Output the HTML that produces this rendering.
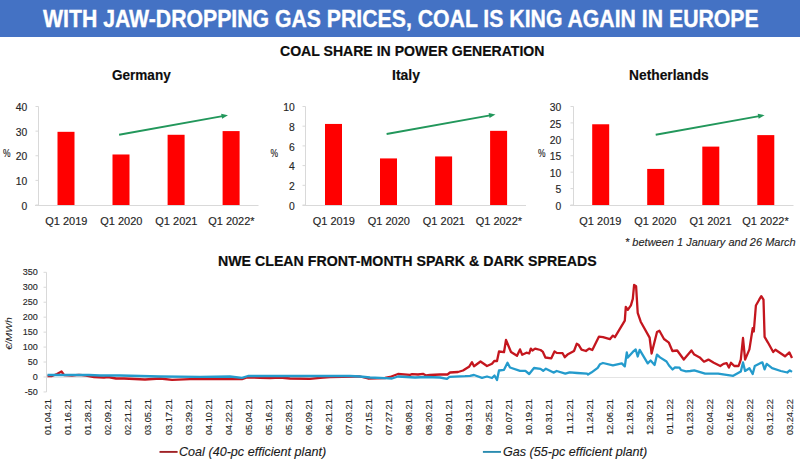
<!DOCTYPE html>
<html><head><meta charset="utf-8">
<style>
html,body{margin:0;padding:0;background:#fff;}
body{width:800px;height:463px;position:relative;overflow:hidden;font-family:"Liberation Sans",sans-serif;}
.hdr{position:absolute;left:0;top:0;width:800px;height:37px;background:#4472c4;}
.t{position:absolute;white-space:nowrap;line-height:1;transform-origin:0 0;}
svg{position:absolute;left:0;top:0;}
svg text{font-family:"Liberation Sans",sans-serif;}
.yl{font-size:10px;fill:#262626;stroke:#262626;stroke-width:0.15px;}
.xl{font-size:10px;fill:#262626;stroke:#262626;stroke-width:0.15px;}
.pct{font-size:10px;fill:#262626;stroke:#262626;stroke-width:0.15px;}
.yl2{font-size:9px;fill:#262626;stroke:#262626;stroke-width:0.12px;}
.dl{font-size:9.7px;fill:#262626;stroke:#262626;stroke-width:0.12px;}
.unit{font-size:9.6px;font-style:italic;fill:#262626;}
</style></head><body>
<div class="hdr"></div>
<svg width="800" height="463" viewBox="0 0 800 463">
<line x1="38.5" y1="106.5" x2="38.5" y2="205" stroke="#d9d9d9" stroke-width="1"/>
<line x1="35" y1="205.5" x2="258.5" y2="205.5" stroke="#d9d9d9" stroke-width="1"/>
<line x1="35.5" y1="205.0" x2="38.5" y2="205.0" stroke="#d9d9d9" stroke-width="1"/>
<text transform="translate(27.3,209.70) scale(1.035,1)" text-anchor="end" class="yl">0</text>
<line x1="35.5" y1="180.375" x2="38.5" y2="180.375" stroke="#d9d9d9" stroke-width="1"/>
<text transform="translate(27.3,185.07) scale(1.035,1)" text-anchor="end" class="yl">10</text>
<line x1="35.5" y1="155.75" x2="38.5" y2="155.75" stroke="#d9d9d9" stroke-width="1"/>
<text transform="translate(27.3,160.45) scale(1.035,1)" text-anchor="end" class="yl">20</text>
<line x1="35.5" y1="131.125" x2="38.5" y2="131.125" stroke="#d9d9d9" stroke-width="1"/>
<text transform="translate(27.3,135.82) scale(1.035,1)" text-anchor="end" class="yl">30</text>
<line x1="35.5" y1="106.5" x2="38.5" y2="106.5" stroke="#d9d9d9" stroke-width="1"/>
<text transform="translate(27.3,111.20) scale(1.035,1)" text-anchor="end" class="yl">40</text>
<rect x="57.50" y="131.82" width="17" height="73.18" fill="#ff0000"/>
<text transform="translate(66.30,224.7) scale(1.1,1)" text-anchor="middle" class="xl">Q1 2019</text>
<rect x="112.50" y="154.48" width="17" height="50.52" fill="#ff0000"/>
<text transform="translate(121.30,224.7) scale(1.1,1)" text-anchor="middle" class="xl">Q1 2020</text>
<rect x="167.60" y="134.78" width="17" height="70.22" fill="#ff0000"/>
<text transform="translate(176.40,224.7) scale(1.1,1)" text-anchor="middle" class="xl">Q1 2021</text>
<rect x="222.60" y="131.09" width="17" height="73.91" fill="#ff0000"/>
<text transform="translate(231.40,224.7) scale(1.1,1)" text-anchor="middle" class="xl">Q1 2022*</text>
<text transform="translate(3.0,157.4) scale(0.85,1)" class="pct">%</text>
<line x1="119.1" y1="134.7" x2="222.58" y2="116.09" stroke="#22975b" stroke-width="1.9"/>
<polygon points="228.00,115.20 222.06,118.82 221.13,113.70" fill="#22975b"/>
<line x1="305.5" y1="106.5" x2="305.5" y2="205" stroke="#d9d9d9" stroke-width="1"/>
<line x1="302.5" y1="205.5" x2="526.0" y2="205.5" stroke="#d9d9d9" stroke-width="1"/>
<line x1="302.5" y1="205.0" x2="305.5" y2="205.0" stroke="#d9d9d9" stroke-width="1"/>
<text transform="translate(294.8,209.70) scale(1.035,1)" text-anchor="end" class="yl">0</text>
<line x1="302.5" y1="185.3" x2="305.5" y2="185.3" stroke="#d9d9d9" stroke-width="1"/>
<text transform="translate(294.8,190.00) scale(1.035,1)" text-anchor="end" class="yl">2</text>
<line x1="302.5" y1="165.6" x2="305.5" y2="165.6" stroke="#d9d9d9" stroke-width="1"/>
<text transform="translate(294.8,170.30) scale(1.035,1)" text-anchor="end" class="yl">4</text>
<line x1="302.5" y1="145.9" x2="305.5" y2="145.9" stroke="#d9d9d9" stroke-width="1"/>
<text transform="translate(294.8,150.60) scale(1.035,1)" text-anchor="end" class="yl">6</text>
<line x1="302.5" y1="126.2" x2="305.5" y2="126.2" stroke="#d9d9d9" stroke-width="1"/>
<text transform="translate(294.8,130.90) scale(1.035,1)" text-anchor="end" class="yl">8</text>
<line x1="302.5" y1="106.5" x2="305.5" y2="106.5" stroke="#d9d9d9" stroke-width="1"/>
<text transform="translate(294.8,111.20) scale(1.035,1)" text-anchor="end" class="yl">10</text>
<rect x="325.00" y="123.94" width="17" height="81.06" fill="#ff0000"/>
<text transform="translate(333.80,224.7) scale(1.1,1)" text-anchor="middle" class="xl">Q1 2019</text>
<rect x="380.00" y="158.42" width="17" height="46.58" fill="#ff0000"/>
<text transform="translate(388.80,224.7) scale(1.1,1)" text-anchor="middle" class="xl">Q1 2020</text>
<rect x="435.10" y="156.45" width="17" height="48.55" fill="#ff0000"/>
<text transform="translate(443.90,224.7) scale(1.1,1)" text-anchor="middle" class="xl">Q1 2021</text>
<rect x="490.10" y="130.84" width="17" height="74.16" fill="#ff0000"/>
<text transform="translate(498.90,224.7) scale(1.1,1)" text-anchor="middle" class="xl">Q1 2022*</text>
<text transform="translate(270.5,157.4) scale(0.85,1)" class="pct">%</text>
<line x1="386.6" y1="134.0" x2="490.08" y2="115.39" stroke="#22975b" stroke-width="1.9"/>
<polygon points="495.50,114.50 489.56,118.12 488.63,113.00" fill="#22975b"/>
<line x1="573.5" y1="106.5" x2="573.5" y2="205" stroke="#d9d9d9" stroke-width="1"/>
<line x1="570" y1="205.5" x2="793.5" y2="205.5" stroke="#d9d9d9" stroke-width="1"/>
<line x1="570.5" y1="205.0" x2="573.5" y2="205.0" stroke="#d9d9d9" stroke-width="1"/>
<text transform="translate(561.3,209.70) scale(1.035,1)" text-anchor="end" class="yl">0</text>
<line x1="570.5" y1="188.58333333333334" x2="573.5" y2="188.58333333333334" stroke="#d9d9d9" stroke-width="1"/>
<text transform="translate(561.3,193.28) scale(1.035,1)" text-anchor="end" class="yl">5</text>
<line x1="570.5" y1="172.16666666666669" x2="573.5" y2="172.16666666666669" stroke="#d9d9d9" stroke-width="1"/>
<text transform="translate(561.3,176.87) scale(1.035,1)" text-anchor="end" class="yl">10</text>
<line x1="570.5" y1="155.75" x2="573.5" y2="155.75" stroke="#d9d9d9" stroke-width="1"/>
<text transform="translate(561.3,160.45) scale(1.035,1)" text-anchor="end" class="yl">15</text>
<line x1="570.5" y1="139.33333333333334" x2="573.5" y2="139.33333333333334" stroke="#d9d9d9" stroke-width="1"/>
<text transform="translate(561.3,144.03) scale(1.035,1)" text-anchor="end" class="yl">20</text>
<line x1="570.5" y1="122.91666666666667" x2="573.5" y2="122.91666666666667" stroke="#d9d9d9" stroke-width="1"/>
<text transform="translate(561.3,127.62) scale(1.035,1)" text-anchor="end" class="yl">25</text>
<line x1="570.5" y1="106.5" x2="573.5" y2="106.5" stroke="#d9d9d9" stroke-width="1"/>
<text transform="translate(561.3,111.20) scale(1.035,1)" text-anchor="end" class="yl">30</text>
<rect x="592.20" y="124.27" width="17" height="80.73" fill="#ff0000"/>
<text transform="translate(600.40,224.7) scale(1.1,1)" text-anchor="middle" class="xl">Q1 2019</text>
<rect x="647.20" y="168.93" width="17" height="36.07" fill="#ff0000"/>
<text transform="translate(655.40,224.7) scale(1.1,1)" text-anchor="middle" class="xl">Q1 2020</text>
<rect x="702.30" y="146.60" width="17" height="58.40" fill="#ff0000"/>
<text transform="translate(710.50,224.7) scale(1.1,1)" text-anchor="middle" class="xl">Q1 2021</text>
<rect x="757.30" y="135.11" width="17" height="69.89" fill="#ff0000"/>
<text transform="translate(765.50,224.7) scale(1.1,1)" text-anchor="middle" class="xl">Q1 2022*</text>
<text transform="translate(538.0,157.4) scale(0.85,1)" class="pct">%</text>
<line x1="655.7" y1="134.7" x2="759.18" y2="116.09" stroke="#22975b" stroke-width="1.9"/>
<polygon points="764.60,115.20 758.66,118.82 757.73,113.70" fill="#22975b"/>
<line x1="46.5" y1="272.3" x2="46.5" y2="392" stroke="#d9d9d9" stroke-width="1"/>
<line x1="46.5" y1="377.5" x2="792" y2="377.5" stroke="#e4e4e4" stroke-width="1"/>
<line x1="43.5" y1="391.96" x2="46.5" y2="391.96" stroke="#d9d9d9" stroke-width="1"/>
<text x="37.7" y="395.44" text-anchor="end" class="yl2">-50</text>
<line x1="43.5" y1="377.00" x2="46.5" y2="377.00" stroke="#d9d9d9" stroke-width="1"/>
<text x="37.7" y="380.36" text-anchor="end" class="yl2">0</text>
<line x1="43.5" y1="362.04" x2="46.5" y2="362.04" stroke="#d9d9d9" stroke-width="1"/>
<text x="37.7" y="365.28" text-anchor="end" class="yl2">50</text>
<line x1="43.5" y1="347.09" x2="46.5" y2="347.09" stroke="#d9d9d9" stroke-width="1"/>
<text x="37.7" y="350.20" text-anchor="end" class="yl2">100</text>
<line x1="43.5" y1="332.13" x2="46.5" y2="332.13" stroke="#d9d9d9" stroke-width="1"/>
<text x="37.7" y="335.12" text-anchor="end" class="yl2">150</text>
<line x1="43.5" y1="317.17" x2="46.5" y2="317.17" stroke="#d9d9d9" stroke-width="1"/>
<text x="37.7" y="320.04" text-anchor="end" class="yl2">200</text>
<line x1="43.5" y1="302.21" x2="46.5" y2="302.21" stroke="#d9d9d9" stroke-width="1"/>
<text x="37.7" y="304.96" text-anchor="end" class="yl2">250</text>
<line x1="43.5" y1="287.26" x2="46.5" y2="287.26" stroke="#d9d9d9" stroke-width="1"/>
<text x="37.7" y="289.88" text-anchor="end" class="yl2">300</text>
<line x1="43.5" y1="272.30" x2="46.5" y2="272.30" stroke="#d9d9d9" stroke-width="1"/>
<text x="37.7" y="274.80" text-anchor="end" class="yl2">350</text>
<text transform="translate(51.20,399.2) rotate(-90) scale(0.95,1)" text-anchor="end" class="dl">01.04.21</text>
<text transform="translate(71.25,399.2) rotate(-90) scale(0.95,1)" text-anchor="end" class="dl">01.16.21</text>
<text transform="translate(91.30,399.2) rotate(-90) scale(0.95,1)" text-anchor="end" class="dl">01.28.21</text>
<text transform="translate(111.35,399.2) rotate(-90) scale(0.95,1)" text-anchor="end" class="dl">02.09.21</text>
<text transform="translate(131.40,399.2) rotate(-90) scale(0.95,1)" text-anchor="end" class="dl">02.21.21</text>
<text transform="translate(151.45,399.2) rotate(-90) scale(0.95,1)" text-anchor="end" class="dl">03.05.21</text>
<text transform="translate(171.50,399.2) rotate(-90) scale(0.95,1)" text-anchor="end" class="dl">03.17.21</text>
<text transform="translate(191.55,399.2) rotate(-90) scale(0.95,1)" text-anchor="end" class="dl">03.29.21</text>
<text transform="translate(211.60,399.2) rotate(-90) scale(0.95,1)" text-anchor="end" class="dl">04.10.21</text>
<text transform="translate(231.65,399.2) rotate(-90) scale(0.95,1)" text-anchor="end" class="dl">04.22.21</text>
<text transform="translate(251.70,399.2) rotate(-90) scale(0.95,1)" text-anchor="end" class="dl">05.04.21</text>
<text transform="translate(271.75,399.2) rotate(-90) scale(0.95,1)" text-anchor="end" class="dl">05.16.21</text>
<text transform="translate(291.80,399.2) rotate(-90) scale(0.95,1)" text-anchor="end" class="dl">05.28.21</text>
<text transform="translate(311.85,399.2) rotate(-90) scale(0.95,1)" text-anchor="end" class="dl">06.09.21</text>
<text transform="translate(331.90,399.2) rotate(-90) scale(0.95,1)" text-anchor="end" class="dl">06.21.21</text>
<text transform="translate(351.95,399.2) rotate(-90) scale(0.95,1)" text-anchor="end" class="dl">07.03.21</text>
<text transform="translate(372.00,399.2) rotate(-90) scale(0.95,1)" text-anchor="end" class="dl">07.15.21</text>
<text transform="translate(392.05,399.2) rotate(-90) scale(0.95,1)" text-anchor="end" class="dl">07.27.21</text>
<text transform="translate(412.10,399.2) rotate(-90) scale(0.95,1)" text-anchor="end" class="dl">08.08.21</text>
<text transform="translate(432.15,399.2) rotate(-90) scale(0.95,1)" text-anchor="end" class="dl">08.20.21</text>
<text transform="translate(452.20,399.2) rotate(-90) scale(0.95,1)" text-anchor="end" class="dl">09.01.21</text>
<text transform="translate(472.25,399.2) rotate(-90) scale(0.95,1)" text-anchor="end" class="dl">09.13.21</text>
<text transform="translate(492.30,399.2) rotate(-90) scale(0.95,1)" text-anchor="end" class="dl">09.25.21</text>
<text transform="translate(512.35,399.2) rotate(-90) scale(0.95,1)" text-anchor="end" class="dl">10.07.21</text>
<text transform="translate(532.40,399.2) rotate(-90) scale(0.95,1)" text-anchor="end" class="dl">10.19.21</text>
<text transform="translate(552.45,399.2) rotate(-90) scale(0.95,1)" text-anchor="end" class="dl">10.31.21</text>
<text transform="translate(572.50,399.2) rotate(-90) scale(0.95,1)" text-anchor="end" class="dl">11.12.21</text>
<text transform="translate(592.55,399.2) rotate(-90) scale(0.95,1)" text-anchor="end" class="dl">11.24.21</text>
<text transform="translate(612.60,399.2) rotate(-90) scale(0.95,1)" text-anchor="end" class="dl">12.06.21</text>
<text transform="translate(632.65,399.2) rotate(-90) scale(0.95,1)" text-anchor="end" class="dl">12.18.21</text>
<text transform="translate(652.70,399.2) rotate(-90) scale(0.95,1)" text-anchor="end" class="dl">12.30.21</text>
<text transform="translate(672.75,399.2) rotate(-90) scale(0.95,1)" text-anchor="end" class="dl">01.11.22</text>
<text transform="translate(692.80,399.2) rotate(-90) scale(0.95,1)" text-anchor="end" class="dl">01.23.22</text>
<text transform="translate(712.85,399.2) rotate(-90) scale(0.95,1)" text-anchor="end" class="dl">02.04.22</text>
<text transform="translate(732.90,399.2) rotate(-90) scale(0.95,1)" text-anchor="end" class="dl">02.16.22</text>
<text transform="translate(752.95,399.2) rotate(-90) scale(0.95,1)" text-anchor="end" class="dl">02.28.22</text>
<text transform="translate(773.00,399.2) rotate(-90) scale(0.95,1)" text-anchor="end" class="dl">03.12.22</text>
<text transform="translate(793.05,399.2) rotate(-90) scale(0.95,1)" text-anchor="end" class="dl">03.24.22</text>
<polyline points="47.5,376 52,376 57,374 61.5,371.5 64,375 72,375.5 79,374.8 86,375.5 94,377 104,377.5 108,377 116,378.5 124,378.5 145,379.5 160,378.5 172,379.8 190,379.2 200,379 230,379.2 242,379.2 247,377.5 260,377.8 270,378.2 280,377.5 290,378.5 310,378.8 320,377.8 330,377 355,376.5 360,376.5 368,378.5 385,378 390,377 398,374 410,374.8 412,374.2 418,374.5 423,373.8 426,375.5 430,375 440,374.5 447.5,374.5 450,372.5 458,372 463,370.5 469,366.8 472,362.2 474,366.2 480.5,361.5 487,366 492,363.8 494.5,360.8 497,361 499,351.5 504,352.2 506,340 511,352 517,355.8 520,349.4 522.2,354.8 526.5,352.7 529.2,353.5 530.8,348.6 532.4,350.5 535.1,348.6 540.5,350 542.7,351.6 545.4,357.5 551.3,358.3 554.5,351.4 556.7,352.9 562.6,353.2 564.8,357.2 567.5,354.6 574,351 576.7,343.8 578.8,345.1 581.5,349.6 585.9,351 589.1,348.6 592.3,350 599,336.6 603,337.2 609.9,339.2 612.9,335.6 614.9,337.2 624.8,320.7 625.8,306.8 627.8,309.8 630.9,305.4 632.8,298.9 634.1,285 636.1,286.3 637.7,312.8 640.7,321.7 649.6,337.6 651.6,353.5 657,332 659.4,330.8 664,339 668.9,342.7 672.4,351 677.2,350.5 683.8,359.5 691.4,350.5 694.3,354.6 699.7,357.4 704,361.7 708.4,359.6 713.8,362.8 720.3,366 723.5,363.9 726.7,363.2 728.9,367.6 731,362.8 734.3,366 738.6,366 740.8,359.6 743,338 745.1,359.6 749.4,349.4 752.7,328.2 753.8,331.5 755.9,305.5 759.2,299.7 761.3,296.2 763.5,299.7 764.6,336.9 767.8,342.3 773.2,352 775.4,349.8 785,356.3 789.4,352.4 792,358" fill="none" stroke="#c4161e" stroke-width="2.3" stroke-linejoin="round"/>
<polyline points="47.5,375 89,375 100,375.5 120,375.5 140,376 160,376.5 200,376.8 230,376.5 242,377.8 248,376 280,376 350,376 360,376.5 370,377.5 385,378.2 392,378.5 398,376.5 415,377.5 426,377 440,377.5 447,378.8 449.5,376.8 465,376.2 470,375.8 474,375 482,377.8 487,376.5 492,378 494.5,375.5 497,380 499,370.5 504,369.8 507.5,362.8 510,367.5 520,370.8 525.4,370.8 529.2,374 534,368 540.5,368.9 543.2,370.8 545.9,368.7 553.5,372.6 556.7,371 565.3,373.7 569.7,372.3 577.2,373 587,373.7 588,374.5 591.3,372.6 597.7,367.8 599.9,364.3 603,363 612.9,365.4 621.8,363.4 624.8,366.4 626.8,352.5 627.8,357.5 632.8,351.9 635.7,349.5 637.7,356.5 639.7,349.9 647.7,363.4 650.6,360.5 654.6,365 657,354.6 660,357.4 666.5,361.5 669,365.5 672.6,369.5 675,367.3 679.5,367.6 681,370 686,371.3 690.25,371 694.3,370.4 705.1,373.6 718.1,373.6 733.2,375.8 740.8,371.4 743,362.4 745.1,371 749.4,368.2 752.7,374 754.8,366 760.2,363.2 762.4,362.4 764.6,369.3 766.7,363.9 772.1,368.2 780.8,371 787.3,372.5 789.8,370.4 792,371.9" fill="none" stroke="#249bcc" stroke-width="2.3" stroke-linejoin="round"/>
<text transform="translate(12.2,333.7) rotate(-90) scale(1.08,1)" text-anchor="middle" class="unit">€/MWh</text>
<line x1="159.5" y1="451.9" x2="177.6" y2="451.9" stroke="#a02226" stroke-width="1.9"/>
<line x1="482.9" y1="451.9" x2="501" y2="451.9" stroke="#2a8cb0" stroke-width="1.9"/>
</svg>
<div class="t" style="left:43.0px;top:7.3999999999999995px;font-size:23.77px;font-weight:bold;color:#fff;transform:scaleX(0.8934);-webkit-text-stroke:0.35px #fff;">WITH JAW-DROPPING GAS PRICES, COAL IS KING AGAIN IN EUROPE</div>
<div class="t" style="left:280.04px;top:43.07px;font-size:15.22px;font-weight:bold;color:#0d0d0d;transform:scaleX(0.9244);-webkit-text-stroke:0.2px #0d0d0d;">COAL SHARE IN POWER GENERATION</div>
<div class="t" style="left:112.36px;top:69.27px;font-size:13.8px;font-weight:bold;color:#0d0d0d;transform:scaleX(0.9814);-webkit-text-stroke:0.15px #0d0d0d;">Germany</div>
<div class="t" style="left:392.32px;top:69.07px;font-size:13.8px;font-weight:bold;color:#0d0d0d;transform:scaleX(1.0152);-webkit-text-stroke:0.15px #0d0d0d;">Italy</div>
<div class="t" style="left:629.28px;top:69.27px;font-size:13.8px;font-weight:bold;color:#0d0d0d;transform:scaleX(1.0001);-webkit-text-stroke:0.15px #0d0d0d;">Netherlands</div>
<div class="t" style="left:217.76px;top:254.27px;font-size:14.86px;font-weight:bold;color:#0d0d0d;transform:scaleX(0.9541);-webkit-text-stroke:0.2px #0d0d0d;">NWE CLEAN FRONT-MONTH SPARK &amp; DARK SPREADS</div>
<div class="t" style="left:624.84px;top:236.63px;font-size:11.5px;font-style:italic;color:#262626;transform:scaleX(0.9571);-webkit-text-stroke:0.12px #262626;">* between 1 January and 26 March</div>
<div class="t" style="left:179.29000000000002px;top:446.38px;font-size:12.2px;font-style:italic;color:#1a1a1a;transform:scaleX(1.0343);-webkit-text-stroke:0.12px #1a1a1a;">Coal (40-pc efficient plant)</div>
<div class="t" style="left:502.57000000000005px;top:446.38px;font-size:12.2px;font-style:italic;color:#1a1a1a;transform:scaleX(1.0329);-webkit-text-stroke:0.12px #1a1a1a;">Gas (55-pc efficient plant)</div>
</body></html>
